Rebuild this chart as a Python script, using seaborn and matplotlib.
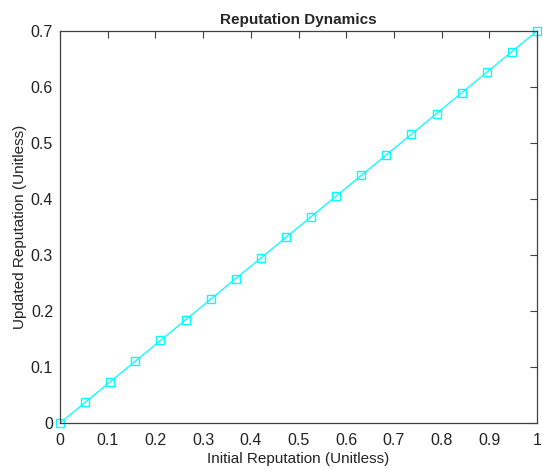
import matplotlib
matplotlib.use("Agg")
import matplotlib.pyplot as plt
import seaborn as sns
import pandas as pd

initial_rep = [0.0, 0.0526, 0.1053, 0.1579, 0.2105, 0.2632, 0.3158, 0.3684, 0.4211, 0.4737,
               0.5263, 0.5789, 0.6316, 0.6842, 0.7368, 0.7895, 0.8421, 0.8947, 0.9474, 1.0]
updated_rep = [0.0, 0.0368, 0.0737, 0.1105, 0.1474, 0.1842, 0.2211, 0.2579, 0.2947, 0.3316,
               0.3684, 0.4053, 0.4421, 0.4789, 0.5158, 0.5526, 0.5895, 0.6263, 0.6632, 0.7]
x_ticks = [0, 0.1, 0.2, 0.3, 0.4, 0.5, 0.6, 0.7, 0.8, 0.9, 1]
x_labels = ["0", "0.1", "0.2", "0.3", "0.4", "0.5", "0.6", "0.7", "0.8", "0.9", "1"]
y_ticks = [0, 0.1, 0.2, 0.3, 0.4, 0.5, 0.6, 0.7]
y_labels = ["0", "0.1", "0.2", "0.3", "0.4", "0.5", "0.6", "0.7"]

sns.set_style("white")
plt.rcParams['font.family'] = ['Liberation Sans', 'DejaVu Sans']

df = pd.DataFrame({"x": initial_rep, "y": updated_rep})

fig = plt.figure(figsize=(5.43, 4.69), dpi=100)
ax = fig.add_axes([0.1105, 0.098, 0.8785, 0.836])
sns.lineplot(data=df, x="x", y="y", ax=ax, color="cyan", linewidth=0.9,
             marker="s", markersize=6, markerfacecolor="none",
             markeredgecolor="cyan", markeredgewidth=1.0)
for ln in ax.lines:
    ln.set_clip_on(False)
ax.set_xlim(0, 1)
ax.set_ylim(0, 0.7)
ax.set_xticks(x_ticks)
ax.set_xticklabels(x_labels)
ax.set_yticks(y_ticks)
ax.set_yticklabels(y_labels)
ax.tick_params(direction="in", top=True, right=True, length=5, width=0.8,
               colors="#404040", labelcolor="#222222", labelsize=11.5)
ax.tick_params(axis="x", pad=7)
ax.tick_params(axis="y", pad=5)
for s in ax.spines.values():
    s.set_color("#404040")
    s.set_linewidth(0.9)
ax.set_xlabel("Initial Reputation (Unitless)", fontsize=11, color="#222222", labelpad=3)
ax.set_ylabel("Updated Reputation (Unitless)", fontsize=11, color="#222222", labelpad=3)
ax.set_title("Reputation Dynamics", fontsize=11, fontweight="bold", pad=5)
fig.savefig("out.png", dpi=100)
